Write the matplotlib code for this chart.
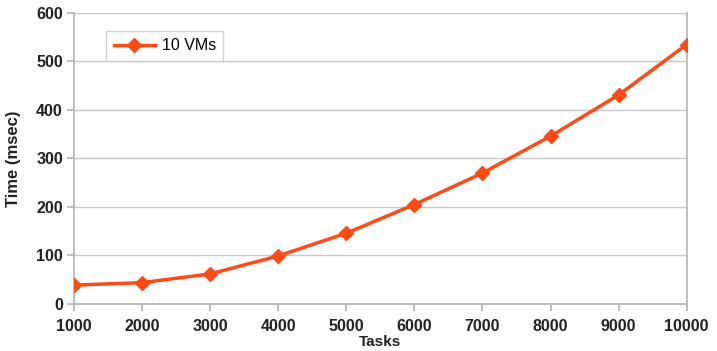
import matplotlib
matplotlib.use("Agg")
import matplotlib.pyplot as plt

tasks = [1000, 2000, 3000, 4000, 5000, 6000, 7000, 8000, 9000, 10000]
time_10vms = [39, 44, 62, 99, 146, 205, 270, 346, 431, 535]
yticks = [0, 100, 200, 300, 400, 500, 600]

plt.rcParams['font.family'] = ['Liberation Sans', 'DejaVu Sans']

fig = plt.figure(figsize=(7.17, 3.51), dpi=100)
ax = fig.add_axes([0.1032, 0.1339, 0.8545, 0.8291])

color = '#FF4A14'
ax.plot(tasks, time_10vms, color=color, lw=2.5, marker='D', ms=7,
        label='10 VMs', zorder=3)

ax.set_xlim(1000, 10000)
ax.set_ylim(0, 600)
ax.set_xticks(tasks)
ax.set_yticks(yticks)
ax.grid(axis='y', color='#c8c8c8', lw=1)
ax.set_axisbelow(True)
for s in ['left', 'right', 'bottom']:
    ax.spines[s].set_color('#b4b4b4')
    ax.spines[s].set_linewidth(1.2)
ax.spines['top'].set_visible(False)
ax.tick_params(axis='both', color='#b4b4b4', length=5, width=1.2,
               labelsize=11.5)
ax.tick_params(axis='y', pad=3)
ax.tick_params(axis='x', pad=6)
for lab in ax.get_xticklabels() + ax.get_yticklabels():
    lab.set_fontweight('bold')
    lab.set_color('#222222')

ax.set_ylabel('Time (msec)', fontsize=12, fontweight='bold', labelpad=11, color='#222222')
ax.set_xlabel('Tasks', fontsize=11, fontweight='bold', labelpad=0.5, color='#222222')

leg = ax.legend(loc='upper left', bbox_to_anchor=(0.04, 0.965), fontsize=11.5,
                frameon=True, fancybox=False, handlelength=2.6, borderpad=0.45,
                handletextpad=0.4)
leg.get_frame().set_edgecolor('#c8c8c8')
leg.get_frame().set_linewidth(1)

fig.savefig('out.png', dpi=100)
